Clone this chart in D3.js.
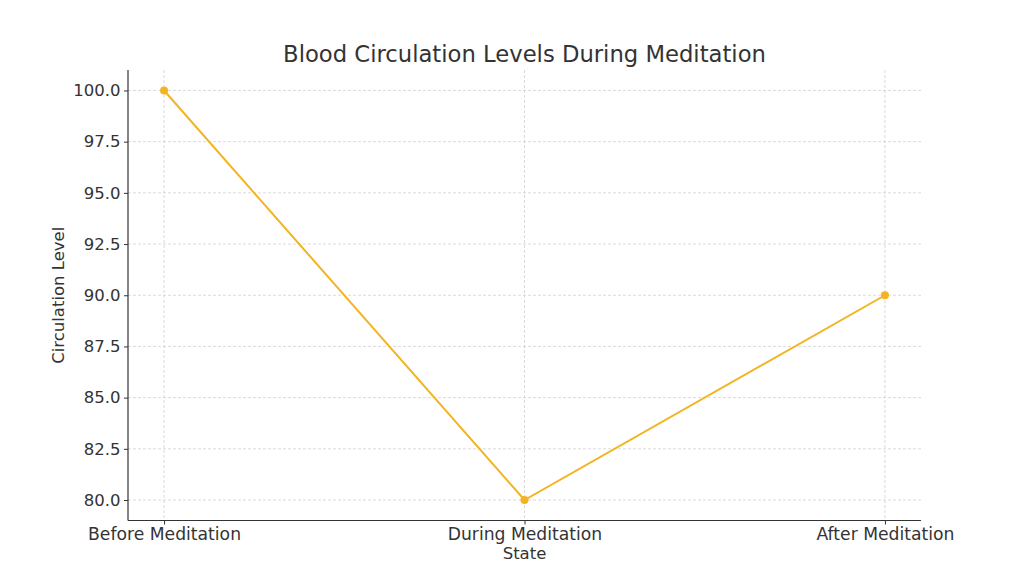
<!DOCTYPE html>
<html><head><meta charset="utf-8">
<script src="https://cdn.jsdelivr.net/npm/d3@7/dist/d3.min.js"></script>
<style>body{margin:0;background:#fff}svg{display:block}text{font-family:"DejaVu Sans",sans-serif;fill:#333}</style>
</head><body><svg id="c" width="1024" height="585"></svg>
<script>
const categories = ["Before Meditation","During Meditation","After Meditation"];
const values = [100, 80, 90];
const yTicks = [80.0, 82.5, 85.0, 87.5, 90.0, 92.5, 95.0, 97.5, 100.0];
const title = "Blood Circulation Levels During Meditation";
const xLabel = "State", yLabel = "Circulation Level";

const svg = d3.select("#c");
const L = 128, R = 921, T = 70, B = 520.5;
const x = d3.scaleLinear().domain([-0.1, 2.1]).range([L, R]);
const y = d3.scaleLinear().domain([79, 101]).range([B, T]);
const color = "#f2b422";
const fs = 16.5;

// grid
svg.append("g").selectAll("line").data(yTicks).join("line")
  .attr("x1", L).attr("x2", R).attr("y1", d => y(d)).attr("y2", d => y(d))
  .attr("stroke", "#d0d0d0").attr("stroke-width", 0.8).attr("stroke-dasharray", "3,2");
svg.append("g").selectAll("line").data(categories).join("line")
  .attr("x1", (d,i) => x(i)).attr("x2", (d,i) => x(i)).attr("y1", T).attr("y2", B)
  .attr("stroke", "#d0d0d0").attr("stroke-width", 0.8).attr("stroke-dasharray", "3,2");

// axes
const yAxis = d3.axisLeft(y).tickValues(yTicks).tickFormat(d3.format(".1f")).tickSize(4).tickPadding(3.5);
const gy = svg.append("g").attr("transform", `translate(${L},0)`).call(yAxis);
const xAxis = d3.axisBottom(x).tickValues([0,1,2]).tickFormat(i => categories[i]).tickSize(4).tickPadding(3);
const gx = svg.append("g").attr("transform", `translate(0,${B})`).call(xAxis);
[gx, gy].forEach(g => {
  g.select(".domain").remove();
  g.selectAll(".tick line").attr("stroke", "#333").attr("stroke-width", 1);
  g.selectAll(".tick text").attr("font-size", fs).attr("fill", "#333").style("font-family", '"DejaVu Sans",sans-serif');
});
gx.selectAll(".tick text").attr("font-size", 17.2);
svg.append("line").attr("x1", L).attr("x2", L).attr("y1", T).attr("y2", B).attr("stroke", "#333").attr("stroke-width", 1.2);
svg.append("line").attr("x1", L).attr("x2", R).attr("y1", B).attr("y2", B).attr("stroke", "#333").attr("stroke-width", 1.2);

// line
svg.append("path").datum(values)
  .attr("d", d3.line().x((d,i) => x(i)).y(d => y(d)))
  .attr("fill", "none").attr("stroke", color).attr("stroke-width", 2);
svg.append("g").selectAll("circle").data(values).join("circle")
  .attr("cx", (d,i) => x(i)).attr("cy", d => y(d)).attr("r", 4).attr("fill", color);

// labels
svg.append("text").attr("x", (L+R)/2).attr("y", 62).attr("text-anchor", "middle").attr("font-size", 22.7).text(title);
svg.append("text").attr("x", (L+R)/2).attr("y", 559).attr("text-anchor", "middle").attr("font-size", fs).text(xLabel);
svg.append("text").attr("transform", `translate(64,${(T+B)/2}) rotate(-90)`).attr("text-anchor", "middle").attr("font-size", fs).text(yLabel);
</script></body></html>
